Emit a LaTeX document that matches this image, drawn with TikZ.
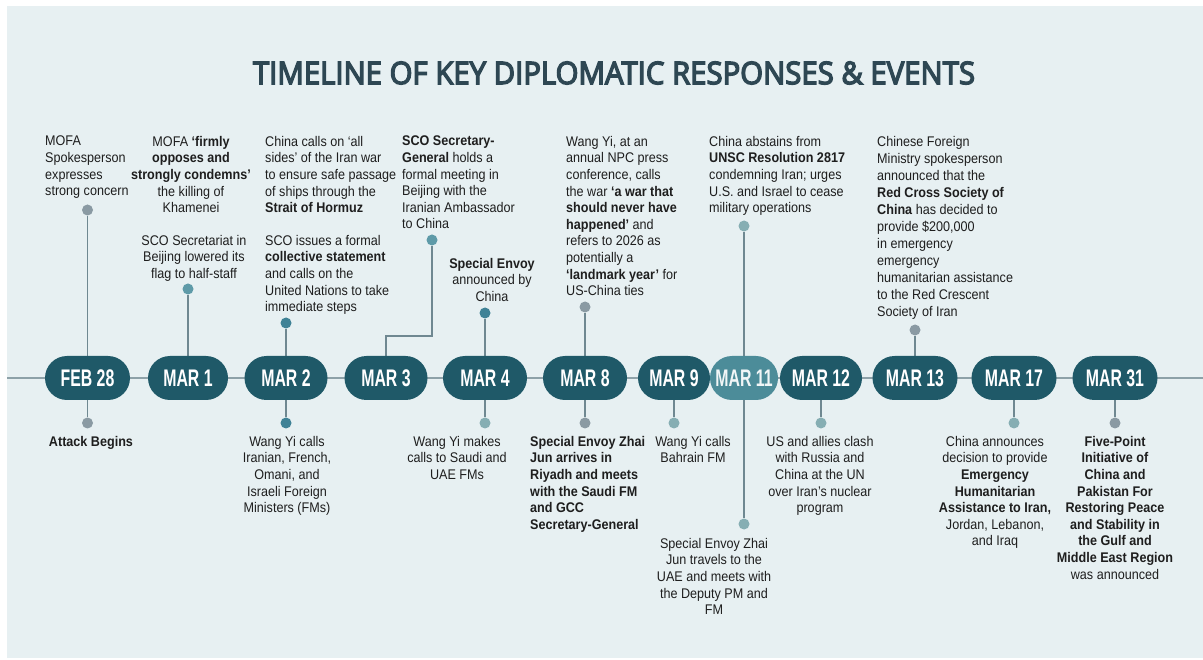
\documentclass[tikz,border=0pt]{standalone}
\usepackage{fontspec}
\usepackage{graphicx}
\setmainfont{Liberation Sans}[FakeStretch=0.9]
\newfontfamily\pillfont{Liberation Sans}[FakeStretch=0.66]
\newfontfamily\titlefont{Open Sans}
\usetikzlibrary{calc}
\definecolor{bgc}{HTML}{E7F0F2}
\definecolor{pillc}{HTML}{1F5968}
\definecolor{pilllt}{HTML}{4C8C99}
\definecolor{linec}{HTML}{6F8891}
\definecolor{axisc}{HTML}{8DA1A8}
\definecolor{txt}{HTML}{1E1E1E}
\definecolor{titlec}{HTML}{2E4753}
\definecolor{dgray}{HTML}{8A9AA3}
\definecolor{dteal}{HTML}{3F8296}
\definecolor{dmid}{HTML}{5E9AA8}
\definecolor{dlight}{HTML}{86AEB3}
\pgfdeclarelayer{back}
\pgfdeclarelayer{bg}
\pgfdeclarelayer{fg}
\pgfsetlayers{back,bg,main,fg}
\begin{document}
\begin{tikzpicture}[x=1pt,y=-1pt,
  pill/.style={rectangle, rounded corners=22pt, fill=pillc, text=white,
    minimum height=44pt, minimum width=#1, inner sep=0pt,
    font=\pillfont\bfseries\fontsize{24}{24}\selectfont},
  ev/.style={inner sep=0pt, text=txt, font=\fontsize{14}{16.6}\selectfont},
  evb/.style={ev, font=\bfseries\fontsize{14}{16.6}\selectfont},
  dot/.style={circle, inner sep=0pt, minimum size=11pt, fill=#1},
  conn/.style={draw=linec, line width=1.8pt},
  axis/.style={draw=axisc, line width=2pt}]
\useasboundingbox (0,0) rectangle (1203,660);
\begin{pgfonlayer}{back}
\fill[white] (0,0) rectangle (1203,660);
\fill[bgc] (7,6) rectangle (1203,658);
\end{pgfonlayer}

% title
\node[text=titlec, inner sep=0pt] (title) at (614,73)
  {\resizebox{722pt}{22.5pt}{\titlefont\special{pdf:literal direct 2 Tr 0.45 w}TIMELINE OF KEY DIPLOMATIC RESPONSES \& EVENTS\special{pdf:literal direct 0 Tr}}};

% pills
\node[pill=85pt] (p0) at (87.5,378) {FEB 28};
\node[pill=80pt] (p1) at (188,378) {MAR 1};
\node[pill=83pt] (p2) at (286,378) {MAR 2};
\node[pill=83pt] (p3) at (386,378) {MAR 3};
\node[pill=84pt] (p4) at (485,378) {MAR 4};
\node[pill=84pt] (p8) at (585,378) {MAR 8};
\node[pill=72pt] (p9) at (674,378) {MAR 9};
\node[pill=68pt, fill=pilllt, text=white!92!pilllt] (p11) at (744,378) {MAR 11};
\node[pill=82pt] (p12) at (821,378) {MAR 12};
\node[pill=85pt] (p13) at (915,378) {MAR 13};
\node[pill=85pt] (p17) at (1014,378) {MAR 17};
\node[pill=85pt] (p31) at (1115,378) {MAR 31};

% dots
\begin{pgfonlayer}{fg}
\node[dot=dgray] (d0t) at (87.5,210) {};
\node[dot=dmid] (d1t) at (188,289) {};
\node[dot=dteal] (d2t) at (286,323) {};
\node[dot=dmid] (d3t) at (432,240) {};
\node[dot=dteal] (d4t) at (485,313) {};
\node[dot=dgray] (d8t) at (585,307) {};
\node[dot=dlight] (d11t) at (744,226) {};
\node[dot=dgray] (d13t) at (915,330) {};
\node[dot=dgray] (d0b) at (87.5,423) {};
\node[dot=dteal] (d2b) at (286,423) {};
\node[dot=dlight] (d4b) at (485,423) {};
\node[dot=dgray] (d8b) at (585,423) {};
\node[dot=dlight] (d9b) at (674,423) {};
\node[dot=dlight] (d11b) at (744,524) {};
\node[dot=dlight] (d12b) at (821,423) {};
\node[dot=dlight] (d17b) at (1014,423) {};
\node[dot=dgray] (d31b) at (1115,423) {};
\end{pgfonlayer}

\coordinate (axL) at (7,378);
\coordinate (axR) at (1203,378);
\coordinate (k3) at (432,336);

\begin{pgfonlayer}{bg}
\draw[axis] (axL) -- (axR);
\draw[conn] (d0t) -- (p0);
\draw[conn] (d1t) -- (p1);
\draw[conn] (d2t) -- (p2);
\draw[conn] (d3t) -- (k3) -| (p3.north);
\draw[conn] (d4t) -- (p4);
\draw[conn] (d8t) -- (p8);
\draw[conn] (d11t) -- (d11b);
\draw[conn] (d13t) -- (p13);
\draw[conn] (d0b) -- (p0);
\draw[conn] (d2b) -- (p2);
\draw[conn] (d4b) -- (p4);
\draw[conn] (d8b) -- (p8);
\draw[conn] (d9b) -- (p9);
\draw[conn] (d12b) -- (p12);
\draw[conn] (d17b) -- (p17);
\draw[conn] (d31b) -- (p31);
\end{pgfonlayer}

% top texts
\node[ev, anchor=north west, align=left] (t0) at (45,136)
  {MOFA\\Spokesperson\\expresses\\strong concern};
\node[ev, anchor=north, align=center] (t1a) at (191,136)
  {MOFA \textbf{‘firmly}\\\textbf{opposes and}\\\textbf{strongly condemns’}\\the killing of\\Khamenei};
\node[ev, anchor=north, align=center] (t1b) at (194,235)
  {SCO Secretariat in\\Beijing lowered its\\flag to half-staff};
\node[ev, anchor=north west, align=left] (t2a) at (265,136)
  {China calls on ‘all\\sides’ of the Iran war\\to ensure safe passage\\of ships through the\\\textbf{Strait of Hormuz}};
\node[ev, anchor=north west, align=left] (t2b) at (265,235)
  {SCO issues a formal\\\textbf{collective statement}\\and calls on the\\United Nations to take\\immediate steps};
\node[ev, anchor=north west, align=left] (t3) at (402,136)
  {\textbf{SCO Secretary-}\\\textbf{General} holds a\\formal meeting in\\Beijing with the\\Iranian Ambassador\\to China};
\node[ev, anchor=north, align=center] (t4) at (492,258)
  {\textbf{Special Envoy}\\announced by\\China};
\node[ev, anchor=north west, align=left] (t8) at (566,136)
  {Wang Yi, at an\\annual NPC press\\conference, calls\\the war \textbf{‘a war that}\\\textbf{should never have}\\\textbf{happened’} and\\refers to 2026 as\\potentially a\\\textbf{‘landmark year’} for\\US-China ties};
\node[ev, anchor=north west, align=left] (t11) at (709,136)
  {China abstains from\\\textbf{UNSC Resolution 2817}\\condemning Iran; urges\\U.S. and Israel to cease\\military operations};
\node[ev, font=\fontsize{14}{17}\selectfont, anchor=north west, align=left] (t13) at (877,136)
  {Chinese Foreign\\Ministry spokesperson\\announced that the\\\textbf{Red Cross Society of}\\\textbf{China} has decided to\\provide \$200,000\\in emergency\\emergency\\humanitarian assistance\\to the Red Crescent\\Society of Iran};

% bottom texts
\node[evb, anchor=north] (b0) at (91,436) {Attack Begins};
\node[ev, anchor=north, align=center] (b2) at (287,436)
  {Wang Yi calls\\Iranian, French,\\Omani, and\\Israeli Foreign\\Ministers (FMs)};
\node[ev, anchor=north, align=center] (b4) at (457,436)
  {Wang Yi makes\\calls to Saudi and\\UAE FMs};
\node[evb, anchor=north west, align=left] (b8) at (530,436)
  {Special Envoy Zhai\\Jun arrives in\\Riyadh and meets\\with the Saudi FM\\and GCC\\Secretary-General};
\node[ev, anchor=north, align=center] (b9) at (693,436)
  {Wang Yi calls\\Bahrain FM};
\node[ev, anchor=north, align=center] (b11) at (714,538)
  {Special Envoy Zhai\\Jun travels to the\\UAE and meets with\\the Deputy PM and\\FM};
\node[ev, anchor=north, align=center] (b12) at (820,436)
  {US and allies clash\\with Russia and\\China at the UN\\over Iran’s nuclear\\program};
\node[ev, anchor=north, align=center] (b17) at (995,436)
  {China announces\\decision to provide\\\textbf{Emergency}\\\textbf{Humanitarian}\\\textbf{Assistance to Iran,}\\Jordan, Lebanon,\\and Iraq};
\node[ev, anchor=north, align=center] (b31) at (1115,436)
  {\textbf{Five-Point}\\\textbf{Initiative of}\\\textbf{China and}\\\textbf{Pakistan For}\\\textbf{Restoring Peace}\\\textbf{and Stability in}\\\textbf{the Gulf and}\\\textbf{Middle East Region}\\was announced};
\end{tikzpicture}
\end{document}
